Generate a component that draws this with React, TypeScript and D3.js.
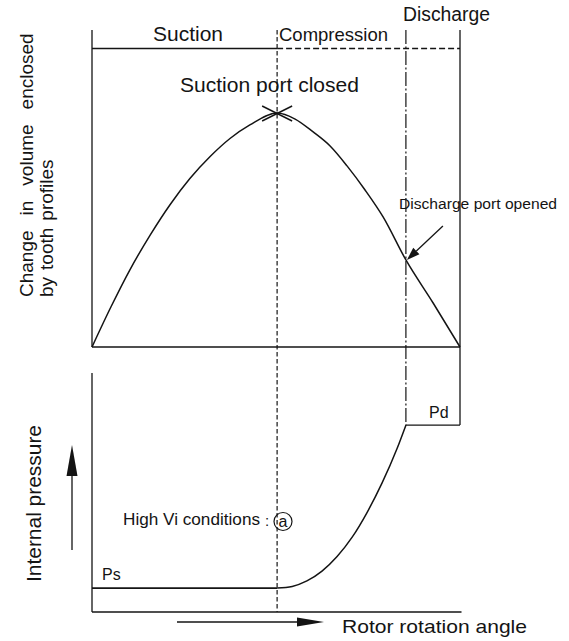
import React from "react";
import * as d3 from "d3";

// ---- data (rotation angle in % of the working cycle) ----
const phaseLabels = ["Suction", "Compression", "Discharge"];
const suctionCloseAngle = 50.3;
const dischargeOpenAngle = 85.3;
const volumeAngles = [0, 5.2, 10.3, 15.8, 21.2, 26.6, 32.1, 37.5, 42.9, 50.3, 55.2, 60.1, 64.7, 69.3, 74.2, 79.1, 85.3, 92.7, 100];
const volumeValues = [0, 17.3, 33.0, 47.8, 60.8, 72.0, 81.4, 89.1, 94.9, 100, 97.4, 91.9, 85.9, 77.4, 67.1, 55.6, 37.2, 18.8, 0];
const pressureAngles = [50.3, 54.4, 58.4, 62.5, 66.6, 70.7, 74.7, 78.8, 82.9, 85.3];
const pressureValues = [1.0, 1.07, 1.3, 1.71, 2.32, 3.13, 4.15, 5.39, 6.84, 7.82];
const psLevel = 1;
const pdLevel = 7.82;
const annotations = ["Suction port closed", "Discharge port opened", "High Vi conditions", "a", "Ps", "Pd"];
const axisTitleLine1 = ["Change", "in", "volume", "enclosed"];
const axisTitleLine2 = ["by", "tooth", "profiles"];
const pressureTitle = "Internal pressure";
const angleTitle = "Rotor rotation angle";

const W = 569;
const H = 641;
const FONT = "'Liberation Sans', Arial, sans-serif";
const INK = "#141414";

export default function App() {
  const x = d3.scaleLinear().domain([0, 100]).range([92, 460]);
  const yV = d3.scaleLinear().domain([0, 100]).range([347, 113]);
  const yP = d3.scaleLinear().domain([0, 10]).range([612, 373]);
  const topY = 30;
  const phaseLineY = 48.5;

  const volPts: [number, number][] = volumeAngles.map((a, i) => [a, volumeValues[i]]);
  const presPts: [number, number][] = pressureAngles.map((a, i) => [a, pressureValues[i]]);

  const volLine = d3
    .line<[number, number]>()
    .x((d) => x(d[0]))
    .y((d) => yV(d[1]))
    .curve(d3.curveMonotoneX);
  const presLine = d3
    .line<[number, number]>()
    .x((d) => x(d[0]))
    .y((d) => yP(d[1]))
    .curve(d3.curveMonotoneX);

  const xs = x(suctionCloseAngle);
  const xd = x(dischargeOpenAngle);
  const xEnd = x(100);
  const x0 = x(0);
  const peakY = yV(d3.max(volumeValues) as number);
  const dIdx = volumeAngles.indexOf(dischargeOpenAngle);
  const tipX = xd + 1;
  const tipY = yV(volumeValues[dIdx]);
  const arrStartX = tipX + 36;
  const arrStartY = tipY - 34;
  const ang = Math.atan2(tipY - arrStartY, tipX - arrStartX);
  const hl = 13;
  const hw = 4.5;
  const bx = tipX - hl * Math.cos(ang);
  const by = tipY - hl * Math.sin(ang);
  const px = -Math.sin(ang);
  const py = Math.cos(ang);
  const head = `${tipX},${tipY} ${bx + hw * px},${by + hw * py} ${bx - hw * px},${by - hw * py}`;

  const yBottom = yP(0);

  return (
    <svg
      width={W}
      height={H}
      style={{ position: "absolute", left: 0, top: 0, background: "#fff" }}
      fontFamily={FONT}
    >
      <rect x={0} y={0} width={W} height={H} fill="#fff" />
      <g stroke={INK} strokeWidth={1.3} fill="none">
        <line x1={x0} y1={topY} x2={x0} y2={yV(0)} />
        <line x1={xEnd} y1={topY} x2={xEnd} y2={yP(pdLevel)} />
        <line x1={x0} y1={yV(0)} x2={xEnd} y2={yV(0)} />
        <line x1={x0} y1={phaseLineY} x2={xs} y2={phaseLineY} />
        <line x1={xs} y1={phaseLineY} x2={xEnd} y2={phaseLineY} strokeDasharray="6,3" />
        <line x1={xs} y1={topY} x2={xs} y2={yBottom} strokeDasharray="4.5,2.5" strokeWidth={1.2} />
        <line x1={xd} y1={topY} x2={xd} y2={yP(pdLevel)} strokeDasharray="14,2.5,2,2.5" strokeWidth={1.2} />
        <line x1={x0} y1={yP(10)} x2={x0} y2={yBottom} />
        <line x1={x0} y1={yBottom} x2={xEnd + 1.5} y2={yBottom} />
        <line x1={x0} y1={yP(psLevel)} x2={xs} y2={yP(psLevel)} strokeWidth={1.6} />
        <line x1={xd} y1={yP(pdLevel)} x2={xEnd} y2={yP(pdLevel)} />
      </g>

      <path d={volLine(volPts) || ""} fill="none" stroke={INK} strokeWidth={1.5} />
      <g stroke={INK} strokeWidth={1.4}>
        <line x1={xs - 15} y1={peakY - 7} x2={xs + 15} y2={peakY + 8} />
        <line x1={xs + 15} y1={peakY - 7} x2={xs - 15} y2={peakY + 8} />
      </g>
      <path d={presLine(presPts) || ""} fill="none" stroke={INK} strokeWidth={1.5} />

      <line x1={arrStartX} y1={arrStartY} x2={bx} y2={by} stroke={INK} strokeWidth={1.3} />
      <polygon points={head} fill={INK} />

      <line x1={72} y1={550} x2={72} y2={470} stroke={INK} strokeWidth={1.3} />
      <polygon points={`72,445 66.5,476 77.5,476`} fill={INK} />
      <line x1={177} y1={622} x2={300} y2={622} stroke={INK} strokeWidth={1.3} />
      <polygon points={`324,622 297,617.5 297,626.5`} fill={INK} />

      <g fill={INK}>
        <text x={153} y={40.5} fontSize={21} textLength={70} lengthAdjust="spacingAndGlyphs">
          {phaseLabels[0]}
        </text>
        <text x={279} y={40.5} fontSize={18.5} textLength={109} lengthAdjust="spacingAndGlyphs">
          {phaseLabels[1]}
        </text>
        <text x={403} y={21} fontSize={19.5} textLength={87} lengthAdjust="spacingAndGlyphs">
          {phaseLabels[2]}
        </text>
        <text x={180} y={92} fontSize={21} textLength={179} lengthAdjust="spacingAndGlyphs">
          {annotations[0]}
        </text>
        <text x={399} y={209} fontSize={15.5} textLength={158} lengthAdjust="spacingAndGlyphs">
          {annotations[1]}
        </text>
        <text x={123} y={525} fontSize={16.5} textLength={137} lengthAdjust="spacingAndGlyphs">
          {annotations[2]}
        </text>
        <text x={265} y={526} fontSize={15}>:</text>
        <circle cx={283} cy={521.5} r={9} fill="none" stroke={INK} strokeWidth={1.2} />
        <text x={283} y={527} fontSize={16} textAnchor="middle">
          {annotations[3]}
        </text>
        <text x={102} y={580} fontSize={16}>{annotations[4]}</text>
        <text x={429} y={418} fontSize={16}>{annotations[5]}</text>

        <text transform="translate(33,297) rotate(-90)" fontSize={19}>
          {axisTitleLine1.map((w, i) => (
            <tspan key={w} dx={i === 0 ? 0 : 15}>
              {w}
            </tspan>
          ))}
        </text>
        <text transform="translate(53,297) rotate(-90)" fontSize={19}>
          {axisTitleLine2.map((w, i) => (
            <tspan key={w} dx={i === 0 ? 0 : 7}>
              {w}
            </tspan>
          ))}
        </text>
        <text transform="translate(41,582) rotate(-90)" fontSize={19.5} textLength={157} lengthAdjust="spacingAndGlyphs">
          {pressureTitle}
        </text>
        <text x={342} y={633} fontSize={19} textLength={185} lengthAdjust="spacingAndGlyphs">
          {angleTitle}
        </text>
      </g>
    </svg>
  );
}
